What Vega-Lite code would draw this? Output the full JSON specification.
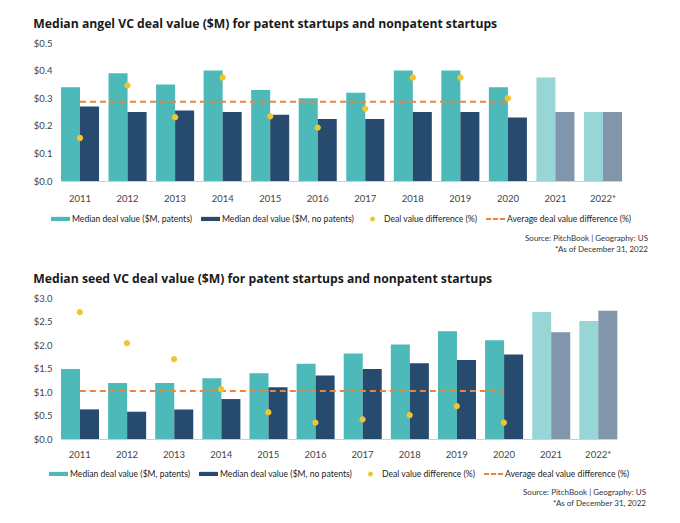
{
  "$schema": "https://vega.github.io/schema/vega-lite/v6.json",
  "background": "white",
  "padding": {"left": 33, "top": 17, "right": 5, "bottom": 5},
  "datasets": {
    "angel": [
      {"year": "2011", "patents": 0.34, "nopatents": 0.27, "diff": 25, "avg": 46},
      {"year": "2012", "patents": 0.39, "nopatents": 0.25, "diff": 55.5, "avg": 46},
      {"year": "2013", "patents": 0.35, "nopatents": 0.255, "diff": 37, "avg": 46},
      {"year": "2014", "patents": 0.40, "nopatents": 0.25, "diff": 60, "avg": 46},
      {"year": "2015", "patents": 0.33, "nopatents": 0.24, "diff": 37.5, "avg": 46},
      {"year": "2016", "patents": 0.30, "nopatents": 0.225, "diff": 31, "avg": 46},
      {"year": "2017", "patents": 0.32, "nopatents": 0.225, "diff": 42, "avg": 46},
      {"year": "2018", "patents": 0.40, "nopatents": 0.25, "diff": 60, "avg": 46},
      {"year": "2019", "patents": 0.40, "nopatents": 0.25, "diff": 60, "avg": 46},
      {"year": "2020", "patents": 0.34, "nopatents": 0.23, "diff": 48, "avg": 46},
      {"year": "2021", "patents": 0.375, "nopatents": 0.25, "diff": null, "avg": null},
      {"year": "2022*", "patents": 0.25, "nopatents": 0.25, "diff": null, "avg": null}
    ],
    "seed": [
      {"year": "2011", "patents": 1.49, "nopatents": 0.63, "diff": 135, "avg": 51},
      {"year": "2012", "patents": 1.19, "nopatents": 0.58, "diff": 102, "avg": 51},
      {"year": "2013", "patents": 1.19, "nopatents": 0.63, "diff": 85, "avg": 51},
      {"year": "2014", "patents": 1.29, "nopatents": 0.85, "diff": 53, "avg": 51},
      {"year": "2015", "patents": 1.40, "nopatents": 1.10, "diff": 28.5, "avg": 51},
      {"year": "2016", "patents": 1.60, "nopatents": 1.35, "diff": 17.5, "avg": 51},
      {"year": "2017", "patents": 1.82, "nopatents": 1.49, "diff": 21, "avg": 51},
      {"year": "2018", "patents": 2.01, "nopatents": 1.61, "diff": 25.5, "avg": 51},
      {"year": "2019", "patents": 2.29, "nopatents": 1.68, "diff": 35, "avg": 51},
      {"year": "2020", "patents": 2.10, "nopatents": 1.80, "diff": 17.5, "avg": 51},
      {"year": "2021", "patents": 2.70, "nopatents": 2.27, "diff": null, "avg": null},
      {"year": "2022*", "patents": 2.51, "nopatents": 2.73, "diff": null, "avg": null}
    ]
  },
  "spacing": 18,
  "resolve": {"scale": {"color": "independent", "fill": "independent", "shape": "independent"}, "legend": {"color": "independent", "shape": "independent"}},
  "vconcat": [
    {
      "title": {"text": ["Source: PitchBook  |  Geography: US", "*As of December 31, 2022"], "orient": "bottom", "anchor": "end", "frame": "bounds", "offset": 11, "dx": 16},
      "resolve": {"scale": {"color": "independent", "fill": "independent", "shape": "independent"}, "legend": {"color": "independent", "shape": "independent"}},
      "vconcat": [
        {
          "data": {"name": "angel"},
          "width": 561,
          "height": 138,
          "title": {"text": "Median angel VC deal value ($M) for patent startups and nonpatent startups", "anchor": "start", "frame": "bounds", "orient": "top", "offset": 8, "font": "Open Sans", "fontSize": 12.2, "fontWeight": "bold", "color": "#1a1a1a"},
          "resolve": {"scale": {"y": "independent"}},
          "encoding": {
            "x": {"field": "year", "type": "nominal", "sort": null, "scale": {"paddingInner": 0.2, "paddingOuter": 0}, "axis": {"title": null, "labelAngle": 0, "domain": true, "domainColor": "#cfcfcf", "labelPadding": 12}}
          },
          "layer": [
            {
              "transform": [{"fold": ["patents", "nopatents"], "as": ["kind", "value"]}],
              "mark": {"type": "bar"},
              "encoding": {
                "xOffset": {"field": "kind", "type": "nominal", "sort": ["patents", "nopatents"]},
                "y": {"field": "value", "type": "quantitative", "scale": {"domain": [0, 0.5]}, "axis": {"orient": "left", "title": null, "values": [0, 0.1, 0.2, 0.3, 0.4, 0.5], "format": "$.1f", "domain": false, "labelPadding": 9}},
                "fill": {"field": "kind", "type": "nominal", "scale": {"domain": ["patents", "nopatents"], "range": ["#4DB9B9", "#274A6F"]}, "legend": null},
                "opacity": {"condition": {"test": "datum.year === '2021' || datum.year === '2022*'", "value": 0.58}, "value": 1}
              }
            },
            {
              "layer": [
                {
                  "transform": [{"filter": "isValid(datum.avg)"}],
                  "mark": {"type": "line", "strokeDash": [6, 4], "strokeWidth": 2, "color": "#E6863F"},
                  "encoding": {
                    "y": {"field": "avg", "type": "quantitative", "scale": {"domain": [0, 80]}, "axis": null}
                  }
                },
                {
                  "transform": [{"filter": "isValid(datum.diff)"}, {"fold": ["diff"], "as": ["series", "pct"]}],
                  "mark": {"type": "point", "filled": true, "size": 580, "opacity": 1, "strokeWidth": 0},
                  "encoding": {
                    "y": {"field": "pct", "type": "quantitative", "scale": {"domain": [0, 80]}, "axis": {"orient": "right", "title": null, "values": [0, 20, 40, 60, 80], "labelExpr": "datum.value + '%'", "domain": false, "labelPadding": 12}},
                    "color": {"field": "series", "type": "nominal", "scale": {"domain": ["patents", "nopatents", "diff", "avg"], "range": ["#4DB9B9", "#274A6F", "#F2C530", "#E6863F"]},
                      "legend": {"orient": "bottom", "direction": "horizontal", "title": null, "offset": 6, "symbolSize": 361, "columnPadding": 8, "labelOffset": 2, "labelFontSize": 8.6, "labelColor": "#222", "labelLimit": 300, "symbolStrokeWidth": 0,
                        "labelExpr": "datum.value === 'patents' ? 'Median deal value ($M, patents)' : datum.value === 'nopatents' ? 'Median deal value ($M, no patents)' : datum.value === 'diff' ? 'Deal value difference (%)' : 'Average deal value difference (%)'"}
                    },
                    "shape": {"field": "series", "type": "nominal", "scale": {"domain": ["patents", "nopatents", "diff", "avg"], "range": ["M-1,-0.22H1V0.22H-1Z", "M-1,-0.22H1V0.22H-1Z", "M-0.26,0A0.26,0.26 0 1,1 0.26,0A0.26,0.26 0 1,1 -0.26,0Z", "M-1,-0.1H-0.45V0.1H-1Z M-0.275,-0.1H0.275V0.1H-0.275Z M0.45,-0.1H1V0.1H0.45Z"]},
                      "legend": {"orient": "bottom", "direction": "horizontal", "title": null, "offset": 6, "symbolSize": 361, "columnPadding": 8, "labelOffset": 2, "labelFontSize": 8.6, "labelColor": "#222", "labelLimit": 300, "symbolStrokeWidth": 0,
                        "labelExpr": "datum.value === 'patents' ? 'Median deal value ($M, patents)' : datum.value === 'nopatents' ? 'Median deal value ($M, no patents)' : datum.value === 'diff' ? 'Deal value difference (%)' : 'Average deal value difference (%)'"}
                    }
                  }
                }
              ]
            }
          ]
        }
      ]
    },
    {
      "title": {"text": ["Source: PitchBook  |  Geography: US", "*As of December 31, 2022"], "orient": "bottom", "anchor": "end", "frame": "bounds", "offset": 10, "dx": 16},
      "resolve": {"scale": {"color": "independent", "fill": "independent", "shape": "independent"}, "legend": {"color": "independent", "shape": "independent"}},
      "vconcat": [
        {
          "data": {"name": "seed"},
          "width": 556,
          "height": 141,
          "title": {"text": "Median seed VC deal value ($M) for patent startups and nonpatent startups", "anchor": "start", "frame": "bounds", "orient": "top", "offset": 8, "font": "Open Sans", "fontSize": 12.2, "fontWeight": "bold", "color": "#1a1a1a"},
          "resolve": {"scale": {"y": "independent"}},
          "encoding": {
            "x": {"field": "year", "type": "nominal", "sort": null, "scale": {"paddingInner": 0.2, "paddingOuter": 0}, "axis": {"title": null, "labelAngle": 0, "domain": true, "domainColor": "#cfcfcf", "labelPadding": 10}}
          },
          "layer": [
            {
              "transform": [{"fold": ["patents", "nopatents"], "as": ["kind", "value"]}],
              "mark": {"type": "bar"},
              "encoding": {
                "xOffset": {"field": "kind", "type": "nominal", "sort": ["patents", "nopatents"]},
                "y": {"field": "value", "type": "quantitative", "scale": {"domain": [0, 3]}, "axis": {"orient": "left", "title": null, "values": [0, 0.5, 1, 1.5, 2, 2.5, 3], "format": "$.1f", "domain": false, "labelPadding": 9}},
                "fill": {"field": "kind", "type": "nominal", "scale": {"domain": ["patents", "nopatents"], "range": ["#4DB9B9", "#274A6F"]}, "legend": null},
                "opacity": {"condition": {"test": "datum.year === '2021' || datum.year === '2022*'", "value": 0.58}, "value": 1}
              }
            },
            {
              "layer": [
                {
                  "transform": [{"filter": "isValid(datum.avg)"}],
                  "mark": {"type": "line", "strokeDash": [6, 4], "strokeWidth": 2, "color": "#E6863F"},
                  "encoding": {
                    "y": {"field": "avg", "type": "quantitative", "scale": {"domain": [0, 150]}, "axis": null}
                  }
                },
                {
                  "transform": [{"filter": "isValid(datum.diff)"}, {"fold": ["diff"], "as": ["series", "pct"]}],
                  "mark": {"type": "point", "filled": true, "size": 580, "opacity": 1, "strokeWidth": 0},
                  "encoding": {
                    "y": {"field": "pct", "type": "quantitative", "scale": {"domain": [0, 150]}, "axis": {"orient": "right", "title": null, "values": [0, 50, 100, 150], "labelExpr": "datum.value + '%'", "domain": false, "labelPadding": 12}},
                    "color": {"field": "series", "type": "nominal", "scale": {"domain": ["patents", "nopatents", "diff", "avg"], "range": ["#4DB9B9", "#274A6F", "#F2C530", "#E6863F"]},
                      "legend": {"orient": "bottom", "direction": "horizontal", "title": null, "offset": 5, "symbolSize": 361, "columnPadding": 8, "labelOffset": 2, "labelFontSize": 8.6, "labelColor": "#222", "labelLimit": 300, "symbolStrokeWidth": 0,
                        "labelExpr": "datum.value === 'patents' ? 'Median deal value ($M, patents)' : datum.value === 'nopatents' ? 'Median deal value ($M, no patents)' : datum.value === 'diff' ? 'Deal value difference (%)' : 'Average deal value difference (%)'"}
                    },
                    "shape": {"field": "series", "type": "nominal", "scale": {"domain": ["patents", "nopatents", "diff", "avg"], "range": ["M-1,-0.22H1V0.22H-1Z", "M-1,-0.22H1V0.22H-1Z", "M-0.26,0A0.26,0.26 0 1,1 0.26,0A0.26,0.26 0 1,1 -0.26,0Z", "M-1,-0.1H-0.45V0.1H-1Z M-0.275,-0.1H0.275V0.1H-0.275Z M0.45,-0.1H1V0.1H0.45Z"]},
                      "legend": {"orient": "bottom", "direction": "horizontal", "title": null, "offset": 5, "symbolSize": 361, "columnPadding": 8, "labelOffset": 2, "labelFontSize": 8.6, "labelColor": "#222", "labelLimit": 300, "symbolStrokeWidth": 0,
                        "labelExpr": "datum.value === 'patents' ? 'Median deal value ($M, patents)' : datum.value === 'nopatents' ? 'Median deal value ($M, no patents)' : datum.value === 'diff' ? 'Deal value difference (%)' : 'Average deal value difference (%)'"}
                    }
                  }
                }
              ]
            }
          ]
        }
      ]
    }
  ],
  "config": {
    "view": {"stroke": null},
    "font": "Lato",
    "axis": {"grid": false, "ticks": false, "labelFont": "Lato", "labelFontSize": 9.5, "labelColor": "#444"},
    "legend": {"labelFont": "Lato", "layout": {"bottom": {"anchor": "middle"}}},
    "title": {"font": "Lato", "fontSize": 8, "fontWeight": "normal", "color": "#333", "lineHeight": 11}
  }
}
